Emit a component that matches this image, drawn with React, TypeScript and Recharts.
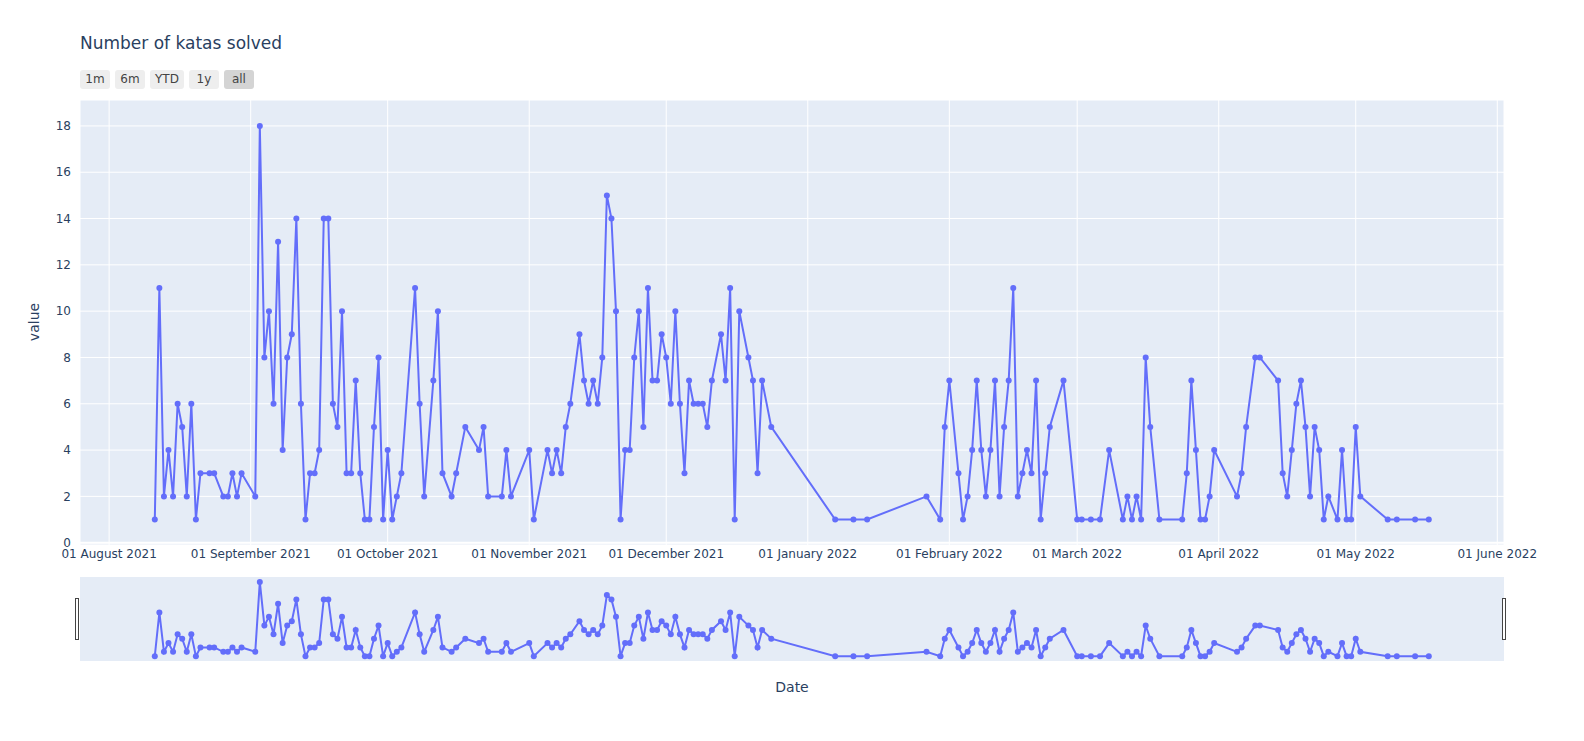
import React from 'react';
import { LineChart, Line, XAxis, YAxis, CartesianGrid, ReferenceLine } from 'recharts';

const dates: string[] = [
  '2021-08-11','2021-08-12','2021-08-13','2021-08-14','2021-08-15','2021-08-16','2021-08-17','2021-08-18','2021-08-19','2021-08-20',
  '2021-08-21','2021-08-23','2021-08-24','2021-08-26','2021-08-27','2021-08-28','2021-08-29','2021-08-30',
  '2021-09-02','2021-09-03','2021-09-04','2021-09-05','2021-09-06','2021-09-07','2021-09-08','2021-09-09','2021-09-10','2021-09-11',
  '2021-09-12','2021-09-13','2021-09-14','2021-09-15','2021-09-16','2021-09-17','2021-09-18','2021-09-19','2021-09-20','2021-09-21',
  '2021-09-22','2021-09-23','2021-09-24','2021-09-25','2021-09-26','2021-09-27','2021-09-28','2021-09-29','2021-09-30',
  '2021-10-01','2021-10-02','2021-10-03','2021-10-04','2021-10-07','2021-10-08','2021-10-09','2021-10-11','2021-10-12','2021-10-13',
  '2021-10-15','2021-10-16','2021-10-18','2021-10-21','2021-10-22','2021-10-23','2021-10-26','2021-10-27','2021-10-28',
  '2021-11-01','2021-11-02','2021-11-05','2021-11-06','2021-11-07','2021-11-08','2021-11-09','2021-11-10','2021-11-12','2021-11-13',
  '2021-11-14','2021-11-15','2021-11-16','2021-11-17','2021-11-18','2021-11-19','2021-11-20','2021-11-21','2021-11-22','2021-11-23',
  '2021-11-24','2021-11-25','2021-11-26','2021-11-27','2021-11-28','2021-11-29','2021-11-30',
  '2021-12-01','2021-12-02','2021-12-03','2021-12-04','2021-12-05','2021-12-06','2021-12-07','2021-12-08','2021-12-09','2021-12-10',
  '2021-12-11','2021-12-13','2021-12-14','2021-12-15','2021-12-16','2021-12-17','2021-12-19','2021-12-20','2021-12-21','2021-12-22','2021-12-24',
  '2022-01-07','2022-01-11','2022-01-14','2022-01-27','2022-01-30','2022-01-31',
  '2022-02-01','2022-02-03','2022-02-04','2022-02-05','2022-02-06','2022-02-07','2022-02-08','2022-02-09','2022-02-10','2022-02-11',
  '2022-02-12','2022-02-13','2022-02-14','2022-02-15','2022-02-16','2022-02-17','2022-02-18','2022-02-19','2022-02-20','2022-02-21',
  '2022-02-22','2022-02-23','2022-02-26',
  '2022-03-01','2022-03-02','2022-03-04','2022-03-06','2022-03-08','2022-03-11','2022-03-12','2022-03-13','2022-03-14','2022-03-15',
  '2022-03-16','2022-03-17','2022-03-19','2022-03-24','2022-03-25','2022-03-26','2022-03-27','2022-03-28','2022-03-29','2022-03-30','2022-03-31',
  '2022-04-05','2022-04-06','2022-04-07','2022-04-09','2022-04-10','2022-04-14','2022-04-15','2022-04-16','2022-04-17','2022-04-18',
  '2022-04-19','2022-04-20','2022-04-21','2022-04-22','2022-04-23','2022-04-24','2022-04-25','2022-04-27','2022-04-28','2022-04-29','2022-04-30',
  '2022-05-01','2022-05-02','2022-05-08','2022-05-10','2022-05-14','2022-05-17',
];

const katas: number[] = [
  1,11,2,4,2,6,5,2,6,1,
  3,3,3,2,2,3,2,3,
  2,18,8,10,6,13,4,8,9,14,
  6,1,3,3,4,14,14,6,5,10,
  3,3,7,3,1,1,5,8,1,
  4,1,2,3,11,6,2,7,10,3,
  2,3,5,4,5,2,2,4,2,
  4,1,4,3,4,3,5,6,9,7,
  6,7,6,8,15,14,10,1,4,4,
  8,10,5,11,7,7,9,
  8,6,10,6,3,7,6,6,6,5,
  7,9,7,11,1,10,8,7,3,7,5,
  1,1,1,2,1,5,
  7,3,1,2,4,7,4,2,4,7,
  2,5,7,11,2,3,4,3,7,1,
  3,5,7,
  1,1,1,1,4,1,2,1,2,1,
  8,5,1,1,3,7,4,1,1,2,4,
  2,3,5,8,8,7,3,2,4,6,
  7,5,2,5,4,1,2,1,4,1,1,
  5,2,1,1,1,1,
];

const xTickDates: string[] = [
  '2021-08-01','2021-09-01','2021-10-01','2021-11-01','2021-12-01','2022-01-01',
  '2022-02-01','2022-03-01','2022-04-01','2022-05-01','2022-06-01',
];
const yTicks: number[] = [0, 2, 4, 6, 8, 10, 12, 14, 16, 18];
const rangeButtons: string[] = ['1m', '6m', 'YTD', '1y', 'all'];
const MONTHS = ['January','February','March','April','May','June','July','August','September','October','November','December'];

const DAY = 86400000;
const toMs = (s: string) => {
  const [y, m, d] = s.split('-').map(Number);
  return Date.UTC(y, m - 1, d);
};
const data = dates.map((d, i) => ({ t: toMs(d), value: katas[i] }));
const xTicks = xTickDates.map(toMs);
const origin = toMs('2021-08-01');
const xDomain: [number, number] = [origin - 6.38 * DAY, origin + 305.47 * DAY];
const yDomain: [number, number] = [-0.1, 19.12];

const fmtDate = (ms: number) => {
  const d = new Date(ms);
  return `${String(d.getUTCDate()).padStart(2, '0')} ${MONTHS[d.getUTCMonth()]} ${d.getUTCFullYear()}`;
};

const FONT = '"DejaVu Sans", Verdana, sans-serif';
const TXT = '#2a3f5f';
const LINE = '#636efa';
const BG = '#E5ECF6';

export default function App() {
  return (
    <div style={{ position: 'absolute', left: 0, top: 0, width: 1584, height: 741, background: '#fff', fontFamily: FONT }}>
      <div style={{ position: 'absolute', left: 80, top: 31, fontSize: 17, color: TXT, whiteSpace: 'nowrap', lineHeight: '24px' }}>
        Number of katas solved
      </div>
      <div style={{ position: 'absolute', left: 80, top: 70, display: 'flex', gap: 5 }}>
        {rangeButtons.map((b) => (
          <div
            key={b}
            style={{
              minWidth: 30, height: 19, padding: '0 5px', boxSizing: 'border-box', borderRadius: 3,
              background: b === 'all' ? '#d4d4d4' : '#eeeeee', color: '#444', fontSize: 12,
              lineHeight: '19px', textAlign: 'center',
            }}
          >
            {b}
          </div>
        ))}
      </div>

      <div style={{ position: 'absolute', left: 0, top: 0 }}>
        <LineChart width={1584} height={575} data={data} margin={{ top: 100, right: 80, bottom: 0, left: 0 }}>
          <CartesianGrid fill={BG} stroke="#ffffff" strokeWidth={1} />
          <XAxis
            dataKey="t" type="number" scale="linear" domain={xDomain} ticks={xTicks} allowDataOverflow
            tickFormatter={fmtDate} axisLine={false} tickLine={false} tickSize={3} tickMargin={1} height={30}
            tick={{ fill: TXT, fontSize: 12, fontFamily: FONT }} interval={0}
          />
          <YAxis
            type="number" domain={yDomain} ticks={yTicks} allowDataOverflow width={80}
            axisLine={false} tickLine={false} tickSize={6} tickMargin={3}
            tick={{ fill: TXT, fontSize: 12, fontFamily: FONT }} interval={0}
          />
          <ReferenceLine y={0} stroke="#ffffff" strokeWidth={2} />
          <Line
            dataKey="value" type="linear" stroke={LINE} strokeWidth={2}
            dot={{ r: 3, fill: LINE, stroke: LINE, strokeWidth: 0 }} activeDot={false}
            isAnimationActive={false}
          />
        </LineChart>
      </div>

      <div style={{ position: 'absolute', left: 80, top: 577, width: 1424, height: 84, background: BG }} />
      <div style={{ position: 'absolute', left: 0, top: 577 }}>
        <LineChart width={1584} height={84} data={data} margin={{ top: 0, right: 80, bottom: 0, left: 80 }}>
          <XAxis dataKey="t" type="number" domain={xDomain} allowDataOverflow hide />
          <YAxis type="number" domain={yDomain} allowDataOverflow hide />
          <Line
            dataKey="value" type="linear" stroke={LINE} strokeWidth={2}
            dot={{ r: 3, fill: LINE, stroke: LINE, strokeWidth: 0 }} activeDot={false}
            isAnimationActive={false}
          />
        </LineChart>
      </div>
      <div style={{ position: 'absolute', left: 75, top: 598, width: 4, height: 42, boxSizing: 'border-box', border: '1px solid #444', background: '#fff' }} />
      <div style={{ position: 'absolute', left: 1502, top: 598, width: 4, height: 42, boxSizing: 'border-box', border: '1px solid #444', background: '#fff' }} />

      <div style={{ position: 'absolute', left: 792, top: 687, transform: 'translate(-50%, -50%)', fontSize: 14, color: TXT, whiteSpace: 'nowrap' }}>
        Date
      </div>
      <div style={{ position: 'absolute', left: 34, top: 322, transform: 'translate(-50%, -50%) rotate(-90deg)', fontSize: 14, color: TXT, whiteSpace: 'nowrap' }}>
        value
      </div>
    </div>
  );
}
